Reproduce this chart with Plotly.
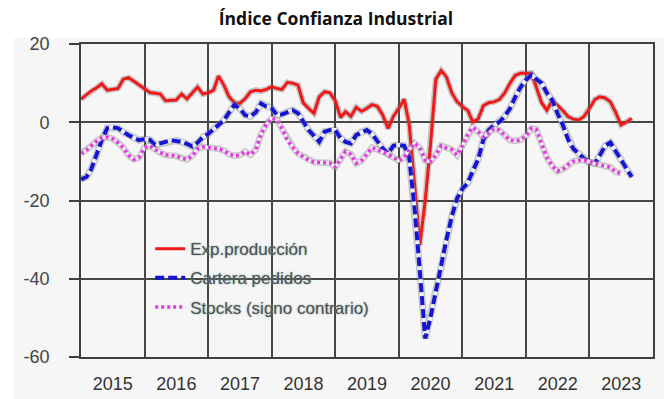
import pandas as pd
import plotly.graph_objects as go

# Monthly observations, January 2015 onwards
months = pd.date_range("2015-01-01", periods=105, freq="MS")

exp_produccion = [
    5.9, 7.0, 8.0, 8.8, 9.8, 8.2, 8.4, 8.6, 11.0, 11.4, 10.5, 9.5,
    8.5, 7.6, 7.4, 7.2, 5.5, 5.6, 5.7, 7.2, 6.0, 7.5, 9.0, 7.2,
    7.5, 8.2, 11.8, 9.5, 6.5, 5.0, 4.8, 6.0, 7.8, 8.2, 8.0, 8.4,
    9.1, 8.6, 8.4, 10.2, 10.0, 9.5, 5.0, 3.5, 2.3, 6.5, 7.8, 7.5,
    5.5, 1.2, 2.7, 1.5, 3.8, 2.8, 3.5, 4.5, 4.0, 1.8, -1.6, 1.5,
    3.5, 5.9, -0.5, -16.0, -31.4, -20.0, -6.0, 11.0, 13.2, 11.6, 7.5, 5.3,
    4.0, 3.0, 0.1, 0.8, 4.2, 5.0, 5.2, 5.8, 7.5, 10.0, 12.0, 12.5,
    12.5, 12.5, 9.0, 5.0, 3.1, 5.5, 4.3, 3.0, 1.4, 0.8, 0.6, 1.5,
    3.5, 5.8, 6.5, 6.2, 5.2, 2.5, -0.7, 0.0, 1.0,
]

cartera_pedidos = [
    -14.6, -14.0, -12.0, -8.0, -4.5, -1.5, -1.3, -1.5, -2.5, -3.3, -4.0, -4.6,
    -4.3, -4.5, -5.8, -5.5, -5.0, -4.6, -4.7, -5.0, -5.5, -6.2, -5.2, -3.8,
    -3.0, -1.8, -1.0, 0.5, 2.5, 4.5, 3.5, 1.8, 1.5, 2.5, 4.8, 4.0,
    3.6, 1.8, 2.0, 2.7, 3.1, 2.3, 0.1, -2.0, -3.5, -5.0, -2.4, -2.0,
    -2.0, -4.1, -5.0, -5.4, -3.3, -2.5, -2.0, -3.0, -5.0, -6.7, -8.0, -6.0,
    -5.8, -6.0, -9.0, -22.0, -38.0, -55.3, -50.0, -43.0, -37.0, -30.0, -24.0, -19.5,
    -17.0, -15.5, -12.5, -9.5, -4.5, -2.0, -0.8, 0.1, 1.5, 3.5, 6.5, 9.0,
    10.8, 12.1, 11.0, 10.0, 7.5, 5.7, 2.3, -0.7, -4.5, -6.8, -8.0, -9.3,
    -10.2, -10.5, -8.5, -6.0, -5.2, -7.5, -9.7, -12.0, -14.0,
]

stocks_signo_contrario = [
    -8.0, -7.2, -6.0, -4.8, -4.0, -3.8, -4.2, -5.2, -6.5, -8.4, -9.5, -9.0,
    -6.5, -6.0, -7.0, -7.8, -8.4, -8.4, -8.6, -9.2, -9.5, -8.6, -6.8, -6.3,
    -6.4, -6.6, -6.8, -7.2, -8.2, -8.6, -8.4, -7.5, -8.3, -7.0, -3.0, -0.5,
    1.0, 0.6, -1.6, -4.6, -6.3, -8.0, -8.8, -9.7, -10.2, -10.3, -10.2, -10.4,
    -11.5, -9.3, -7.5, -8.2, -10.5, -9.8, -8.2, -6.5, -7.0, -7.5, -8.2, -9.0,
    -9.8, -9.0, -7.0, -5.4, -6.5, -9.7, -10.1, -8.4, -6.0, -6.6, -7.0, -8.4,
    -6.0, -3.0, -1.3, -2.4, -3.7, -2.8, -1.6, -2.0, -3.3, -4.6, -4.8, -4.5,
    -3.5, -1.6, -1.8, -5.5, -9.0, -11.2, -12.5, -12.0, -10.8, -10.0, -9.7, -9.7,
    -10.2, -10.6, -10.9, -11.2, -11.5, -12.7, -13.1, None, None,
]

y_ticks = [-60, -40, -20, 0, 20]
y_tick_labels = ["-60", "-40", "-20", "0", "20"]

series = [
    ("Exp.producción", exp_produccion, "#f01818", "solid", 3.0, None),
    ("Cartera pedidos", cartera_pedidos, "#1414d2", "9px,4px", 4.0, "#eef0f8"),
    ("Stocks (signo contrario)", stocks_signo_contrario, "#e03ce0", "3px,3px", 3.5, "#f8eaf8"),
]

fig = go.Figure()

for i, (name, values, color, dash, width, core) in enumerate(series):
    group = f"g{i}"
    # soft grey outline under each line
    fig.add_trace(go.Scatter(
        x=months, y=values, mode="lines", showlegend=False, hoverinfo="skip",
        legendgroup=group,
        line=dict(color="rgba(110,110,110,0.35)", width=width + 3),
    ))
    if core:
        # pale fill between the dashes / dots
        fig.add_trace(go.Scatter(
            x=months, y=values, mode="lines", showlegend=False, hoverinfo="skip",
            legendgroup=group,
            line=dict(color=core, width=width),
        ))
    fig.add_trace(go.Scatter(
        x=months, y=values, mode="lines", name=name, legendgroup=group,
        line=dict(color=color, width=width, dash=dash),
    ))

fig.update_layout(
    width=664, height=399,
    margin=dict(l=81, r=11, t=44, b=42),
    paper_bgcolor="#ffffff",
    plot_bgcolor="#ffffff",
    title=dict(
        text="<b>Índice Confianza Industrial</b>",
        x=0.506, xanchor="center", y=0.953, yanchor="middle",
        font=dict(family="Open Sans", size=17.5, color="#111111"),
    ),
    legend=dict(
        x=0.121, y=0.402, xanchor="left", yanchor="top",
        bgcolor="rgba(0,0,0,0)", borderwidth=0,
        tracegroupgap=4,
        font=dict(family="Liberation Sans", size=17, color="#4a5454",
                  shadow="0 0 2px #8e9a9a"),
    ),
    shapes=[dict(
        type="rect", xref="paper", yref="paper",
        x0=-0.117, x1=1.03, y0=-0.14, y1=1.02,
        fillcolor="#f6f6f6", line=dict(width=0), layer="below",
    )],
)

fig.update_xaxes(
    type="date",
    range=["2015-01-01", "2024-01-01"],
    tick0="2015-01-01", dtick="M12", tickformat="%Y",
    ticklabelmode="period",
    showgrid=True, gridcolor="#474747", gridwidth=1.6,
    showline=True, linecolor="#404040", linewidth=1.6, mirror=True,
    ticks="", ticklabelstandoff=10, automargin=False,
    tickfont=dict(family="Liberation Sans", size=18, color="#333333"),
    zeroline=False,
)

fig.update_yaxes(
    range=[-60, 20], tickmode="array", tickvals=y_ticks, ticktext=y_tick_labels,
    showgrid=True, gridcolor="#474747", gridwidth=1.6,
    showline=True, linecolor="#404040", linewidth=1.6, mirror=True,
    ticks="outside", ticklen=10, tickwidth=1.5, tickcolor="#404040",
    ticklabelstandoff=16, automargin=False,
    tickfont=dict(family="Liberation Sans", size=18, color="#444444"),
    zeroline=False,
)

fig.write_html("out.html")
